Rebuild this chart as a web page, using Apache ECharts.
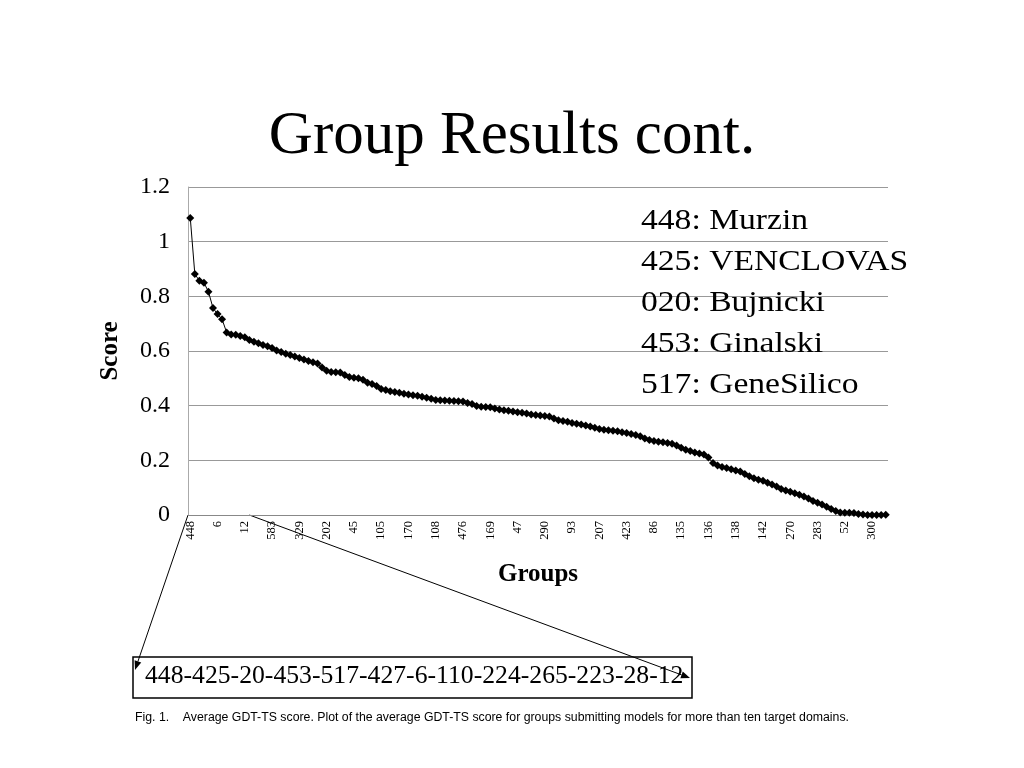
<!DOCTYPE html>
<html>
<head>
<meta charset="utf-8">
<script src="https://cdn.jsdelivr.net/npm/echarts@6/dist/echarts.min.js"></script>
<style>
  html, body { margin: 0; padding: 0; background: #fff; }
  #main { width: 1024px; height: 768px; }
</style>
</head>
<body>
<div id="main"></div>
<script>
// groups listed in the zoom box (first 13 on the axis)
const firstGroups = ['448', '425', '20', '453', '517', '427', '6', '110', '224', '265', '223', '28', '12'];

// labels printed under every 6th group
const tickLabels = ['448', '6', '12', '583', '329', '202', '45', '105', '170', '108', '476', '169', '47',
  '290', '93', '207', '423', '86', '135', '136', '138', '142', '270', '283', '52', '300'];

// average GDT-TS score per group, sorted
const scores = [
  1.087, 0.882, 0.857, 0.850, 0.817, 0.757, 0.735, 0.716, 0.668, 0.660,
  0.659, 0.655, 0.650, 0.640, 0.634, 0.628, 0.622, 0.617, 0.611, 0.602,
  0.596, 0.590, 0.585, 0.580, 0.574, 0.569, 0.563, 0.559, 0.554, 0.540,
  0.528, 0.523, 0.522, 0.521, 0.512, 0.505, 0.502, 0.500, 0.495, 0.484,
  0.479, 0.472, 0.461, 0.457, 0.453, 0.450, 0.447, 0.444, 0.441, 0.438,
  0.436, 0.433, 0.429, 0.425, 0.421, 0.420, 0.419, 0.418, 0.417, 0.416,
  0.415, 0.410, 0.406, 0.399, 0.396, 0.395, 0.394, 0.390, 0.386, 0.383,
  0.381, 0.379, 0.376, 0.374, 0.371, 0.368, 0.366, 0.364, 0.362, 0.360,
  0.353, 0.347, 0.344, 0.341, 0.337, 0.334, 0.331, 0.327, 0.324, 0.319,
  0.315, 0.312, 0.310, 0.308, 0.306, 0.303, 0.300, 0.296, 0.293, 0.288,
  0.280, 0.274, 0.271, 0.268, 0.266, 0.263, 0.261, 0.254, 0.246, 0.239,
  0.234, 0.229, 0.225, 0.221, 0.210, 0.190, 0.181, 0.176, 0.172, 0.167,
  0.163, 0.159, 0.150, 0.142, 0.134, 0.129, 0.125, 0.118, 0.112, 0.104,
  0.095, 0.090, 0.085, 0.080, 0.074, 0.068, 0.060, 0.051, 0.045, 0.038,
  0.030, 0.022, 0.015, 0.009, 0.008, 0.008, 0.007, 0.004, 0.002, 0.000,
  0.000, 0.000, 0.000, 0.001
];

const teamNotes = ['448: Murzin', '425: VENCLOVAS', '020: Bujnicki', '453: Ginalski', '517: GeneSilico'];

const caption = 'Fig. 1.    Average GDT-TS score. Plot of the average GDT-TS score for groups submitting models for more than ten target domains.';

const categories = scores.map((v, i) => {
  if (i % 6 === 0) return tickLabels[i / 6];
  if (i < firstGroups.length) return firstGroups[i];
  return '';
});

const serif = 'Liberation Serif';
const chart = echarts.init(document.getElementById('main'));

chart.setOption({
  backgroundColor: '#fff',
  animation: false,
  title: {
    text: 'Group Results cont.',
    left: 'center',
    top: 101,
    textStyle: { fontFamily: serif, fontSize: 61, fontWeight: 'normal', color: '#000' }
  },
  grid: { left: 188, right: 136, top: 187, bottom: 253 },
  xAxis: {
    type: 'category',
    data: categories,
    boundaryGap: true,
    name: 'Groups',
    nameLocation: 'middle',
    nameGap: 47,
    nameTextStyle: { fontFamily: serif, fontSize: 25, fontWeight: 'bold', color: '#000' },
    axisLine: { lineStyle: { color: '#888', width: 1 } },
    axisTick: { interval: 0, length: 3, lineStyle: { color: '#888' } },
    axisLabel: {
      interval: 5,
      rotate: 90,
      margin: 6,
      fontFamily: serif,
      fontSize: 12.5,
      color: '#000'
    },
    splitLine: { show: false }
  },
  yAxis: {
    type: 'value',
    min: 0,
    max: 1.2,
    interval: 0.2,
    name: 'Score',
    nameLocation: 'middle',
    nameGap: 65,
    nameTextStyle: { fontFamily: serif, fontSize: 25, fontWeight: 'bold', color: '#000' },
    axisLine: { show: true, lineStyle: { color: '#aaa', width: 1 } },
    axisTick: { show: false },
    axisLabel: {
      margin: 18,
      fontFamily: serif,
      fontSize: 24,
      color: '#000',
      formatter: v => String(Math.round(v * 10) / 10)
    },
    splitLine: { lineStyle: { color: '#999', width: 1 } }
  },
  series: [{
    type: 'line',
    data: scores,
    symbol: 'diamond',
    symbolSize: 8,
    showAllSymbol: true,
    clip: false,
    itemStyle: { color: '#000' },
    lineStyle: { color: '#000', width: 1 }
  }]
});

// zoom box and arrows under the axis
const px0 = chart.convertToPixel({ xAxisIndex: 0 }, 0);
const px1 = chart.convertToPixel({ xAxisIndex: 0 }, 1);
const band = px1 - px0;
const axisY = chart.convertToPixel({ yAxisIndex: 0 }, 0);
const leftStart = [px0 - band / 2, axisY];
const rightStart = [chart.convertToPixel({ xAxisIndex: 0 }, 13), axisY];
const leftEnd = [135, 670];
const rightEnd = [690, 678];

function arrow(s, e) {
  const dx = e[0] - s[0], dy = e[1] - s[1];
  const len = Math.sqrt(dx * dx + dy * dy);
  const ux = dx / len, uy = dy / len;
  const bx = e[0] - ux * 9, by = e[1] - uy * 9;
  return [
    { type: 'line', shape: { x1: s[0], y1: s[1], x2: bx, y2: by }, style: { stroke: '#000', lineWidth: 1 } },
    { type: 'polygon', shape: { points: [e, [bx - uy * 3.5, by + ux * 3.5], [bx + uy * 3.5, by - ux * 3.5]] }, style: { fill: '#000' } }
  ];
}

const notes = teamNotes.map((t, i) => ({
  type: 'text',
  x: 641,
  y: 206 + i * 41,
  scaleX: 1.12,
  style: { text: t, fontFamily: serif, fontSize: 30, fill: '#000' }
}));

chart.setOption({
  graphic: [
    ...notes,
    ...arrow(leftStart, leftEnd),
    ...arrow(rightStart, rightEnd),
    {
      type: 'rect',
      shape: { x: 133, y: 657, width: 559, height: 41 },
      style: { fill: 'none', stroke: '#000', lineWidth: 1.5 }
    },
    {
      type: 'text',
      left: 145,
      top: 663,
      style: { text: firstGroups.join('-'), fontFamily: serif, fontSize: 25.7, fill: '#000' }
    },
    {
      type: 'text',
      left: 135,
      top: 712,
      style: { text: caption, fontFamily: 'Liberation Sans', fontSize: 12.3, fill: '#000' }
    }
  ]
});
</script>
</body>
</html>
